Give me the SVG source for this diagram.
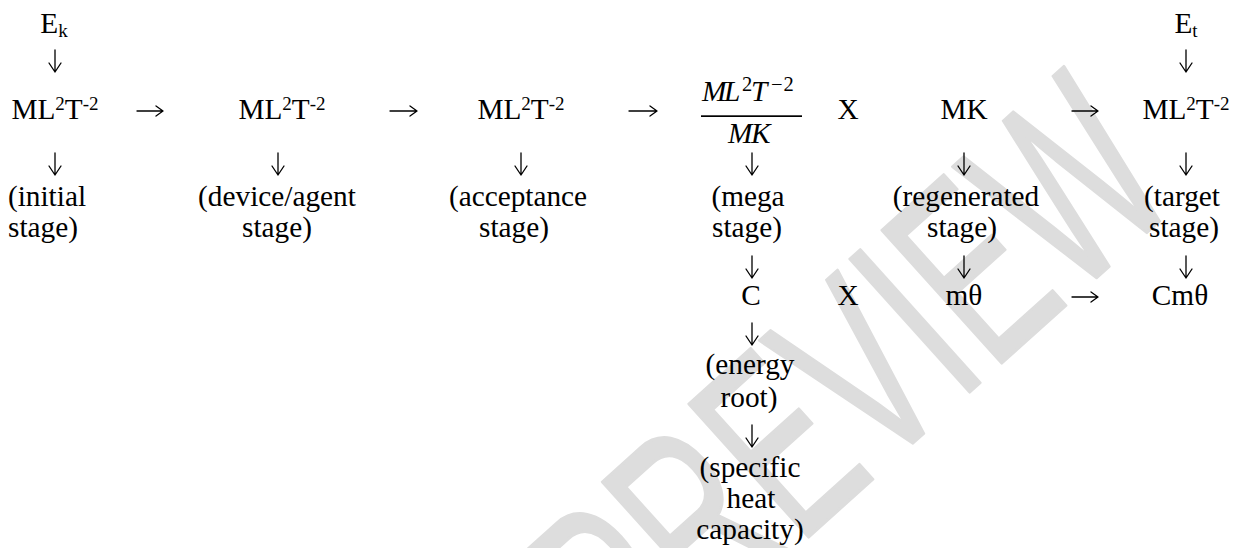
<svg xmlns="http://www.w3.org/2000/svg" width="1240" height="548" viewBox="0 0 1240 548">
<style>
.t{font-family:"Liberation Serif","Times New Roman",serif;font-size:29.3px;fill:#000;text-anchor:middle}
.s{font-size:19px}
.mi{font-family:"Liberation Serif","Times New Roman",serif;font-size:29.3px;font-style:italic;fill:#000}
.ms{font-style:normal;font-size:20.5px}
.wm{font-family:"Liberation Sans",Arial,sans-serif;font-size:260px;fill:#dddddd;stroke:#dddddd;stroke-width:3;stroke-linejoin:round}
.c{fill:none;stroke:#000;stroke-width:1.3;stroke-linecap:round;stroke-linejoin:round}
</style>
<rect width="1240" height="548" fill="#fff"/>
<text class="wm" transform="translate(632,696) rotate(-42) scale(0.62,1)">PREVIEW</text>

<g id="connectors">
<path class="c" d="M55,50V72M49,63L55,72L61,63"/>
<path class="c" d="M55,153V175M49,166L55,175L61,166"/>
<path class="c" d="M278,153V175M272,166L278,175L284,166"/>
<path class="c" d="M521,153V175M515,166L521,175L527,166"/>
<path class="c" d="M752,153V175M746,166L752,175L758,166"/>
<path class="c" d="M752,256V278M746,269L752,278L758,269"/>
<path class="c" d="M752,323V345M746,336L752,345L758,336"/>
<path class="c" d="M752,425V447M746,438L752,447L758,438"/>
<path class="c" d="M964,153V175M958,166L964,175L970,166"/>
<path class="c" d="M964,256V278M958,269L964,278L970,269"/>
<path class="c" d="M1186,50V72M1180,63L1186,72L1192,63"/>
<path class="c" d="M1186,153V175M1180,166L1186,175L1192,166"/>
<path class="c" d="M1186,256V278M1180,269L1186,278L1192,269"/>
<path class="c" d="M137,111H163M156,106L163,111L156,116"/>
<path class="c" d="M390,111H417M410,106L417,111L410,116"/>
<path class="c" d="M629,111H657M650,106L657,111L650,116"/>
<path class="c" d="M1072,111H1098M1091,106L1098,111L1091,116"/>
<path class="c" d="M1072,297H1098M1091,292L1098,297L1091,302"/>
</g>

<g id="n-ek"><text class="t" x="54" y="33">E<tspan class="s" dy="4">k</tspan></text></g>
<g id="n-initial">
<text class="t" x="55" y="119">ML<tspan class="s" dy="-9">2</tspan><tspan dy="9">T</tspan><tspan class="s" dy="-9">-2</tspan></text>
<text class="t" x="47" y="206">(initial</text>
<text class="t" x="43" y="237">stage)</text>
</g>
<g id="n-device">
<text class="t" x="282" y="119">ML<tspan class="s" dy="-9">2</tspan><tspan dy="9">T</tspan><tspan class="s" dy="-9">-2</tspan></text>
<text class="t" x="277" y="206">(device/agent</text>
<text class="t" x="277" y="237">stage)</text>
</g>
<g id="n-acceptance">
<text class="t" x="521" y="119">ML<tspan class="s" dy="-9">2</tspan><tspan dy="9">T</tspan><tspan class="s" dy="-9">-2</tspan></text>
<text class="t" x="518" y="206">(acceptance</text>
<text class="t" x="514" y="237">stage)</text>
</g>
<g id="n-mega">
<text class="mi" y="101"><tspan x="702">M</tspan><tspan x="724">L</tspan><tspan class="ms" x="742" dy="-10">2</tspan><tspan x="751" dy="10">T</tspan><tspan class="ms" x="771" dy="-10" letter-spacing="1">−2</tspan></text>
<rect x="701" y="115.3" width="101" height="1.7" fill="#000"/>
<text class="mi" y="143"><tspan x="728">M</tspan><tspan x="751">K</tspan></text>
<text class="t" x="748" y="206">(mega</text>
<text class="t" x="747" y="237">stage)</text>
</g>
<g id="n-x1"><text class="t" x="848" y="119">X</text></g>
<g id="n-regen">
<text class="t" x="964" y="119">MK</text>
<text class="t" x="966" y="206">(regenerated</text>
<text class="t" x="962" y="237">stage)</text>
</g>
<g id="n-et"><text class="t" x="1186" y="33">E<tspan class="s" dy="4">t</tspan></text></g>
<g id="n-target">
<text class="t" x="1186" y="119">ML<tspan class="s" dy="-9">2</tspan><tspan dy="9">T</tspan><tspan class="s" dy="-9">-2</tspan></text>
<text class="t" x="1182" y="206">(target</text>
<text class="t" x="1184" y="237">stage)</text>
</g>
<g id="n-c"><text class="t" x="751" y="305">C</text></g>
<g id="n-x2"><text class="t" x="848" y="305">X</text></g>
<g id="n-mtheta"><text class="t" x="964" y="305">mθ</text></g>
<g id="n-cmtheta"><text class="t" x="1180" y="305">Cmθ</text></g>
<g id="n-energy">
<text class="t" x="750" y="374">(energy</text>
<text class="t" x="749" y="407">root)</text>
</g>
<g id="n-specific">
<text class="t" x="750" y="477">(specific</text>
<text class="t" x="751" y="508">heat</text>
<text class="t" x="750" y="539">capacity)</text>
</g>
</svg>
